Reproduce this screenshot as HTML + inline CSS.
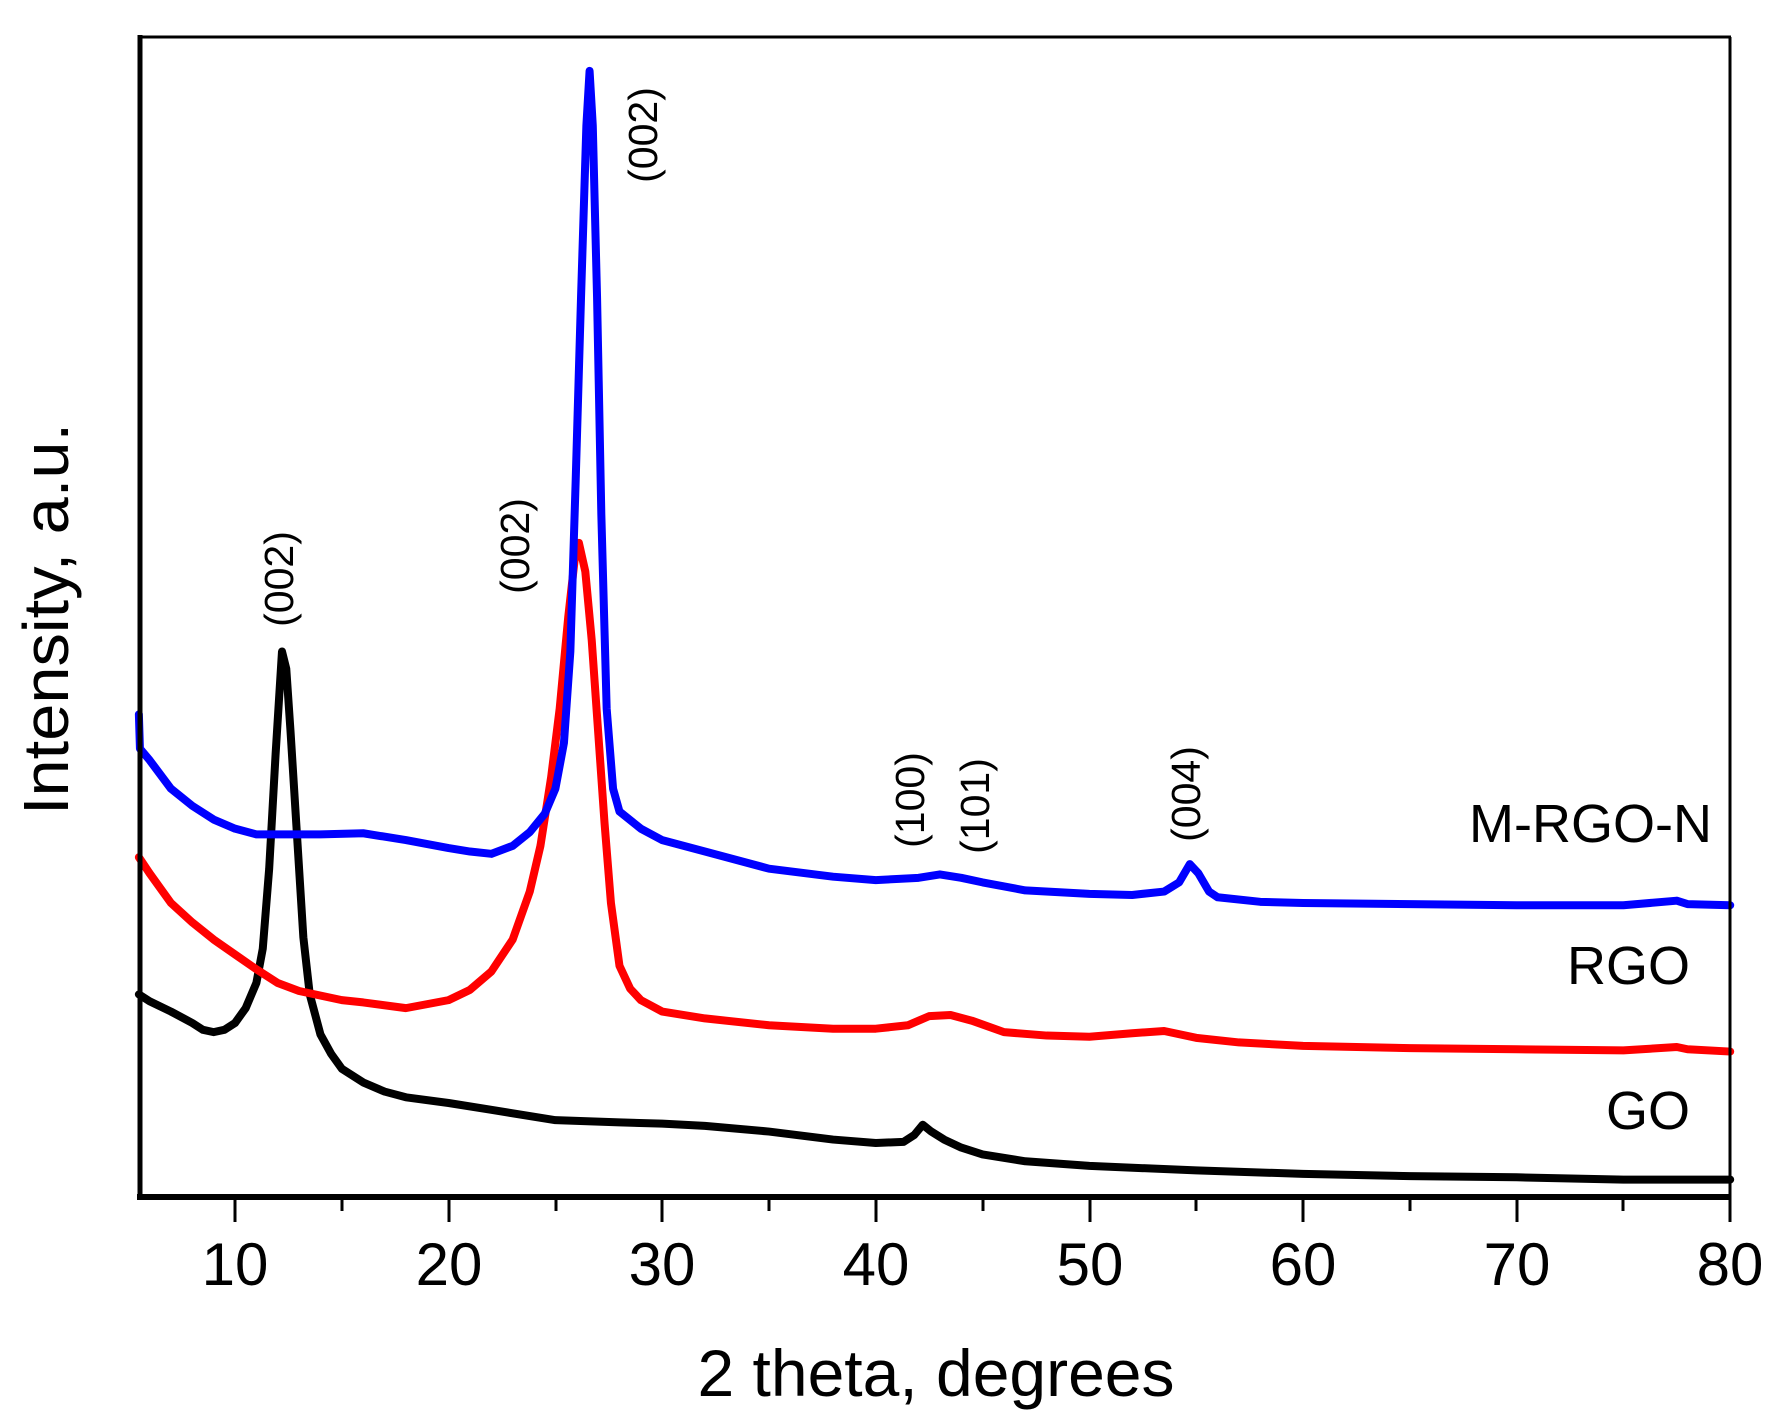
<!DOCTYPE html>
<html><head><meta charset="utf-8"><style>
html,body{margin:0;padding:0;background:#fff;}
svg{display:block;font-family:"Liberation Sans",Arial,sans-serif;}
</style></head><body>
<svg width="1791" height="1426" viewBox="0 0 1791 1426" xmlns="http://www.w3.org/2000/svg">
<rect width="1791" height="1426" fill="#fff"/>
<g transform="translate(21.4,0) scale(21.36,1.143)" fill="none" stroke-linejoin="round" stroke-linecap="round">
<polyline vector-effect="non-scaling-stroke" stroke="#000" stroke-width="8" points="5.5,870 6,876 7,885 8,895 8.5,901 9,903 9.5,901 10,895 10.5,882 11,860 11.3,830 11.6,760 11.9,660 12.2,570 12.4,585 12.6,640 12.9,730 13.2,820 13.5,870 14,905 14.5,922 15,935 16,947 17,955 18,960 20,965 22,971 25,980 28,982 30,983 32,985 35,990 38,997 40,1000 41.3,999 41.8,993 42.2,984 42.6,990 43.2,997 44,1004 45,1010 47,1016 50,1020 55,1024 60,1027 65,1029 70,1030 75,1032 80,1032"/>
<polyline vector-effect="non-scaling-stroke" stroke="#ff0000" stroke-width="8" points="5.5,750 6,764 7,790 8,807 9,822 10,835 11,848 12,860 13,867 15,875 16,877 18,882 20,875 21,866 22,850 23,822 23.8,780 24.3,740 24.8,680 25.2,620 25.6,540 25.9,490 26.1,475 26.4,500 26.7,560 27,640 27.3,720 27.6,790 28,845 28.5,865 29,875 30,885 32,891 35,897 38,900 40,900 41.5,897 42.5,889 43.5,888 44.5,893 46,903 48,906 50,907 52,904 53.5,902 55,908 57,912 60,915 65,917 70,918 75,919 77.5,916 78,918 80,920"/>
<polyline vector-effect="non-scaling-stroke" stroke="#0000ff" stroke-width="8" points="5.5,625 5.55,655 6,665 7,690 8,705 9,717 10,725 11,730 12,730 14,730 16,729 18,735 20,742 21,745 22,747 23,740 23.8,728 24.5,712 25,690 25.4,650 25.7,570 25.95,420 26.2,260 26.45,110 26.6,62 26.75,110 26.95,260 27.15,450 27.4,620 27.7,690 28,710 29,725 30,735 32,745 35,760 38,767 40,770 42,768 43,765 44,768 45,772 47,779 50,782 52,783 53.5,780 54.2,772 54.7,756 55.1,764 55.6,780 56,785 58,789 60,790 65,791 70,792 75,792 77.5,788 78,791 80,792"/>
</g>
<!-- frame -->
<line x1="138" y1="37" x2="1731" y2="37" stroke="#000" stroke-width="3"/>
<line x1="1730" y1="37" x2="1730" y2="1197" stroke="#000" stroke-width="3"/>
<line x1="140" y1="35" x2="140" y2="1200" stroke="#000" stroke-width="5"/>
<line x1="137" y1="1197" x2="1731" y2="1197" stroke="#000" stroke-width="6"/>
<g stroke="#000" stroke-width="3">
<line x1="235" y1="1197" x2="235" y2="1222"/><line x1="342" y1="1197" x2="342" y2="1211"/>
<line x1="449" y1="1197" x2="449" y2="1222"/><line x1="556" y1="1197" x2="556" y2="1211"/>
<line x1="662" y1="1197" x2="662" y2="1222"/><line x1="769" y1="1197" x2="769" y2="1211"/>
<line x1="876" y1="1197" x2="876" y2="1222"/><line x1="983" y1="1197" x2="983" y2="1211"/>
<line x1="1090" y1="1197" x2="1090" y2="1222"/><line x1="1196" y1="1197" x2="1196" y2="1211"/>
<line x1="1303" y1="1197" x2="1303" y2="1222"/><line x1="1410" y1="1197" x2="1410" y2="1211"/>
<line x1="1517" y1="1197" x2="1517" y2="1222"/><line x1="1623" y1="1197" x2="1623" y2="1211"/>
<line x1="1730" y1="1197" x2="1730" y2="1222"/>
</g>
<g font-size="60" text-anchor="middle" fill="#000">
<text x="235" y="1285">10</text><text x="449" y="1285">20</text><text x="662" y="1285">30</text>
<text x="876" y="1285">40</text><text x="1090" y="1285">50</text><text x="1303" y="1285">60</text>
<text x="1517" y="1285">70</text><text x="1730" y="1285">80</text>
</g>
<text x="936" y="1396" font-size="66" text-anchor="middle">2 theta, degrees</text>
<text transform="translate(68,619) rotate(-90)" font-size="64" text-anchor="middle" textLength="392" lengthAdjust="spacingAndGlyphs">Intensity, a.u.</text>
<g font-size="41" text-anchor="middle">
<text transform="translate(293,579) rotate(-90)">(002)</text>
<text transform="translate(529,546) rotate(-90)">(002)</text>
<text transform="translate(657,135) rotate(-90)">(002)</text>
<text transform="translate(924,800) rotate(-90)">(100)</text>
<text transform="translate(989,806) rotate(-90)">(101)</text>
<text transform="translate(1200,794) rotate(-90)">(004)</text>
</g>
<g font-size="54" text-anchor="end">
<text x="1712" y="842">M-RGO-N</text>
<text x="1690" y="984">RGO</text>
<text x="1690" y="1129">GO</text>
</g>
</svg>
</body></html>
